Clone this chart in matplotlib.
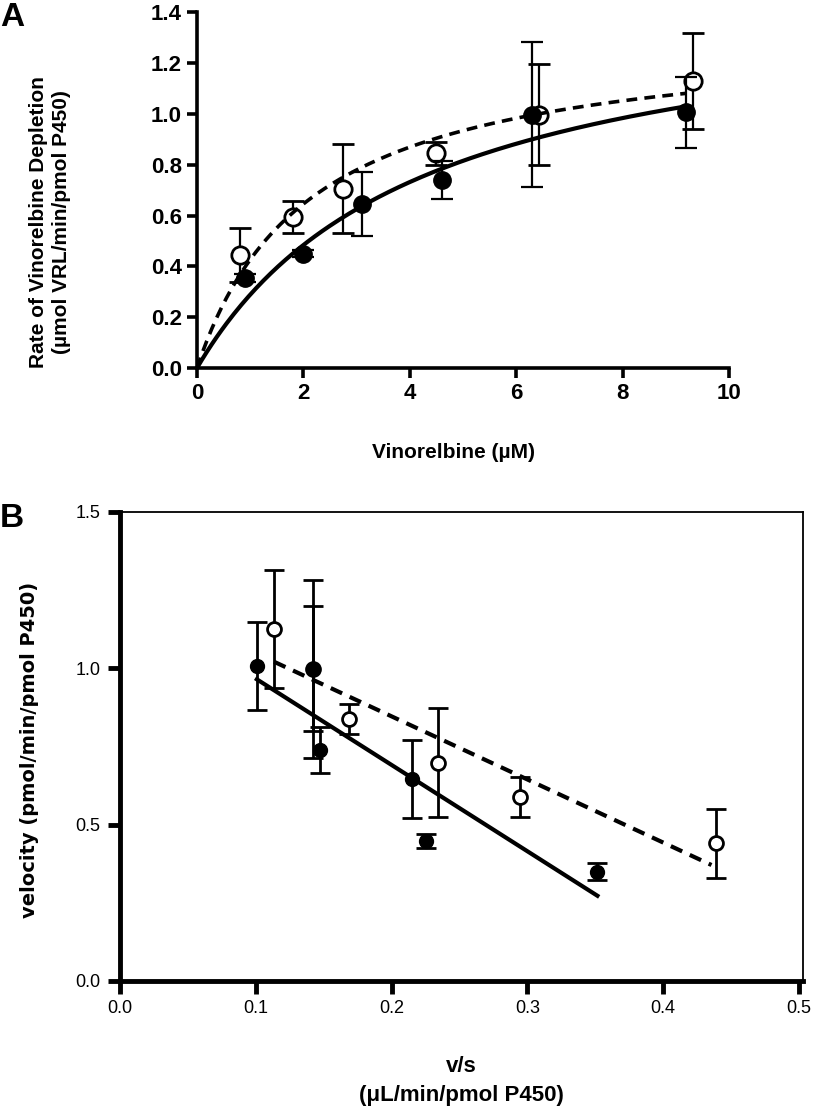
import matplotlib
matplotlib.use("Agg")
import matplotlib.pyplot as plt
import numpy as np

# panel A: depletion rate vs vinorelbine concentration
conc_filled = [0.9, 2.0, 3.1, 4.6, 6.3, 9.2]
rate_filled = [0.355, 0.45, 0.645, 0.74, 0.997, 1.006]
err_filled = [0.015, 0.015, 0.125, 0.075, 0.285, 0.14]
conc_open = [0.8, 1.8, 2.75, 4.5, 6.42, 9.32]
rate_open = [0.445, 0.595, 0.705, 0.845, 0.997, 1.13]
err_open = [0.105, 0.063, 0.175, 0.045, 0.20, 0.19]

# Michaelis-Menten fits (Vmax, Km)
fit_filled = (1.50, 4.2)
fit_open = (1.33, 2.12)

# panel B: Eadie-Hofstee
vs_filled = [0.1008, 0.142, 0.147, 0.2147, 0.2257, 0.3514]
vel_filled = [1.007, 0.999, 0.739, 0.646, 0.448, 0.35]
verr_filled = [0.141, 0.285, 0.073, 0.125, 0.022, 0.028]
vs_open = [0.1135, 0.142, 0.1689, 0.2343, 0.2948, 0.4392]
vel_open = [1.126, 0.998, 0.838, 0.698, 0.589, 0.44]
verr_open = [0.19, 0.20, 0.048, 0.175, 0.065, 0.11]

# linear fits (intercept, slope, x range)
line_filled = (1.243, -2.76, 0.1008, 0.3516)
line_open = (1.250, -2.018, 0.1135, 0.4356)

arial = ["Liberation Sans", "DejaVu Sans"]
narrow = ["Liberation Sans Narrow", "Liberation Sans", "DejaVu Sans"]

W, H = 815, 1113
fig = plt.figure(figsize=(W / 100, H / 100), dpi=100)

# ---- panel A ----
ax = fig.add_axes([0.2417, 0.6694, 0.6528, 0.3196])
ax.errorbar(conc_open, rate_open, yerr=err_open, fmt="o", ms=12.5, mfc="white",
            mec="black", mew=2, ecolor="black", elinewidth=1.6, capsize=8,
            capthick=1.6, zorder=3)
ax.errorbar(conc_filled, rate_filled, yerr=err_filled, fmt="o", ms=12.5, mfc="black",
            mec="black", ecolor="black", elinewidth=1.6, capsize=8,
            capthick=1.6, zorder=4)
xs = np.linspace(0, 9.2, 200)
vmax, km = fit_filled
ax.plot(xs, vmax * xs / (km + xs), color="black", lw=3, zorder=5)
vmax, km = fit_open
ax.plot(xs, vmax * xs / (km + xs), color="black", lw=2.6, dashes=(3, 2), zorder=5)

ax.set_xlim(0, 10)
ax.set_ylim(0, 1.4)
ax.set_xticks([0, 2, 4, 6, 8, 10])
ax.set_yticks(np.arange(0, 1.41, 0.2))
ax.set_yticklabels([f"{v:.1f}" for v in np.arange(0, 1.41, 0.2)])
for s in ["top", "right"]:
    ax.spines[s].set_visible(False)
for s in ["left", "bottom"]:
    ax.spines[s].set_linewidth(2.6)
ax.tick_params(width=2.6, length=7, labelsize=16, pad=4)
for lab in ax.get_xticklabels() + ax.get_yticklabels():
    lab.set_fontfamily(arial)
    lab.set_fontweight("bold")
fig.text(454 / W, 1 - 453 / H, "Vinorelbine (\u00b5M)", family=arial, weight="bold",
         fontsize=15, ha="center", va="center")
fig.text(50 / W, 1 - 222 / H, "Rate of Vinorelbine Depletion\n(\u00b5mol VRL/min/pmol P450)",
         family=arial, weight="bold", fontsize=15, rotation=90, ha="center",
         va="center", linespacing=1.25)
fig.text(0.0, 0.998, "A", family=arial, weight="bold", fontsize=24, va="top", ha="left")

# ---- panel B ----
bx = fig.add_axes([0.1472, 0.1186, 0.8381, 0.4214])
bx.errorbar(vs_open, vel_open, yerr=verr_open, fmt="o", ms=10, mfc="white",
            mec="black", mew=2, ecolor="black", elinewidth=2, capsize=7,
            capthick=2, zorder=3)
bx.errorbar(vs_filled, vel_filled, yerr=verr_filled, fmt="o", ms=10, mfc="black",
            mec="black", ecolor="black", elinewidth=2, capsize=7,
            capthick=2, zorder=4)
b0, m, x0, x1 = line_filled
lx = np.array([x0, x1])
bx.plot(lx, b0 + m * lx, color="black", lw=3, zorder=5)
b0, m, x0, x1 = line_open
lx = np.array([x0, x1])
bx.plot(lx, b0 + m * lx, color="black", lw=3, dashes=(3, 2), zorder=5)

bx.set_xlim(0, 0.503)
bx.set_ylim(0, 1.5)
bx.set_xticks([0, 0.1, 0.2, 0.3, 0.4, 0.5])
bx.set_xticklabels(["0.0", "0.1", "0.2", "0.3", "0.4", "0.5"])
bx.set_yticks([0, 0.5, 1.0, 1.5])
bx.set_yticklabels(["0.0", "0.5", "1.0", "1.5"])
for s in ["left", "bottom"]:
    bx.spines[s].set_linewidth(3.5)
for s in ["top", "right"]:
    bx.spines[s].set_linewidth(1.3)
bx.tick_params(width=3.5, length=9, labelsize=13, pad=5)
for lab in bx.get_xticklabels() + bx.get_yticklabels():
    lab.set_fontfamily(narrow)
fig.text(30 / W, 1 - 750 / H, "velocity (pmol/min/pmol P450)", family=["DejaVu Sans"],
         weight="bold", fontsize=14, rotation=90, ha="center", va="center")
bx.set_xlabel("v/s\n(\u03bcL/min/pmol P450)", family=narrow, weight="bold",
              fontsize=16, labelpad=28, linespacing=1.5)
fig.text(0.0, 0.548, "B", family=arial, weight="bold", fontsize=24, va="top", ha="left")

fig.savefig("out.png", dpi=100)
